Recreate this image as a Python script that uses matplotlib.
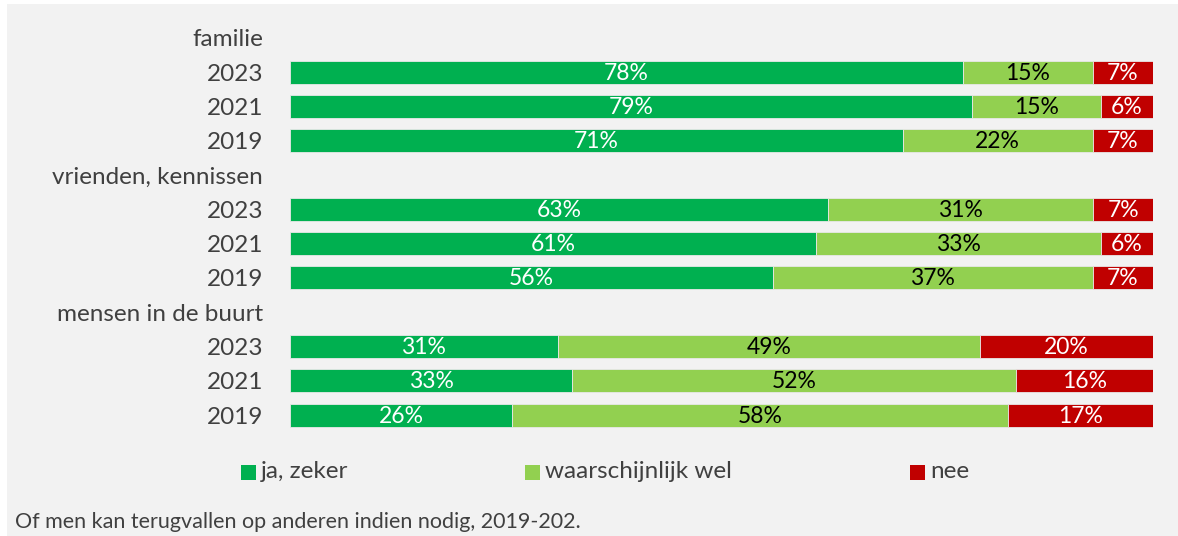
import matplotlib
matplotlib.use("Agg")
import matplotlib.pyplot as plt
from matplotlib.patches import Rectangle

plt.rcParams['font.family'] = ['Lato', 'DejaVu Sans']

# Row labels, top to bottom (group headers carry no bar)
row_labels = ["familie", "2023", "2021", "2019",
              "vrienden, kennissen", "2023", "2021", "2019",
              "mensen in de buurt", "2023", "2021", "2019"]

# Percentages per row (None for header rows)
ja_zeker = [None, 78, 79, 71, None, 63, 61, 56, None, 31, 33, 26]
waarschijnlijk = [None, 15, 15, 22, None, 31, 33, 37, None, 49, 52, 58]
nee = [None, 7, 6, 7, None, 7, 6, 7, None, 20, 16, 17]

series_names = ["ja, zeker", "waarschijnlijk wel", "nee"]
series_colors = ["#00B050", "#92D050", "#C00000"]
label_colors = ["white", "black", "white"]

caption = "Of men kan terugvallen op anderen indien nodig, 2019-202."

W, H = 1178, 536
bg = "#F2F2F2"
fig = plt.figure(figsize=(W / 100, H / 100), dpi=100)
fig.patch.set_facecolor("white")
fig.add_artist(Rectangle((7 / W, 0), 1 - 7 / W, 1 - 4 / H, transform=fig.transFigure,
                         facecolor=bg, edgecolor="none", zorder=-10))

ax = fig.add_axes([290 / W, 1 - 432.2 / H, (1153 - 290) / W, (432.2 - 20.8) / H])
ax.set_facecolor("none")

n = len(row_labels)
ys = list(range(n))
series = [ja_zeker, waarschijnlijk, nee]
for r in range(n):
    if ja_zeker[r] is None:
        continue
    vals = [s[r] for s in series]
    total = sum(vals)
    left = 0.0
    for k, v in enumerate(vals):
        w = v / total * 100
        ax.barh(r, w, left=left, height=0.67, color=series_colors[k],
                edgecolor="#E8E8E8", linewidth=0.6)
        ax.text(left + w / 2, r + 0.03, f"{v}%", ha="center", va="center",
                fontsize=16.5, color=label_colors[k])
        left += w

ax.set_xlim(0, 100)
ax.set_ylim(n - 0.5, -0.5)
ax.set_yticks(ys)
ax.set_yticklabels(row_labels, fontsize=17.5, color="#404040")
ax.tick_params(axis="y", length=0, pad=19.5)
ax.set_xticks([])
for sp in ax.spines.values():
    sp.set_visible(False)

# Legend entries placed individually
legend_x = [241, 525, 910]
for name, col, x in zip(series_names, series_colors, legend_x):
    fig.add_artist(Rectangle((x / W, 1 - 480 / H), 15 / W, 15 / H, transform=fig.transFigure,
                             facecolor=col, edgecolor="none"))
    fig.text((x + 20) / W, 1 - 471 / H, name, ha="left", va="center",
             fontsize=17.5, color="#404040")

fig.text(15 / W, 1 - 522 / H, caption, ha="left", va="center", fontsize=15.5,
         color="#404040")

fig.savefig("out.png", dpi=100, facecolor=fig.get_facecolor())
